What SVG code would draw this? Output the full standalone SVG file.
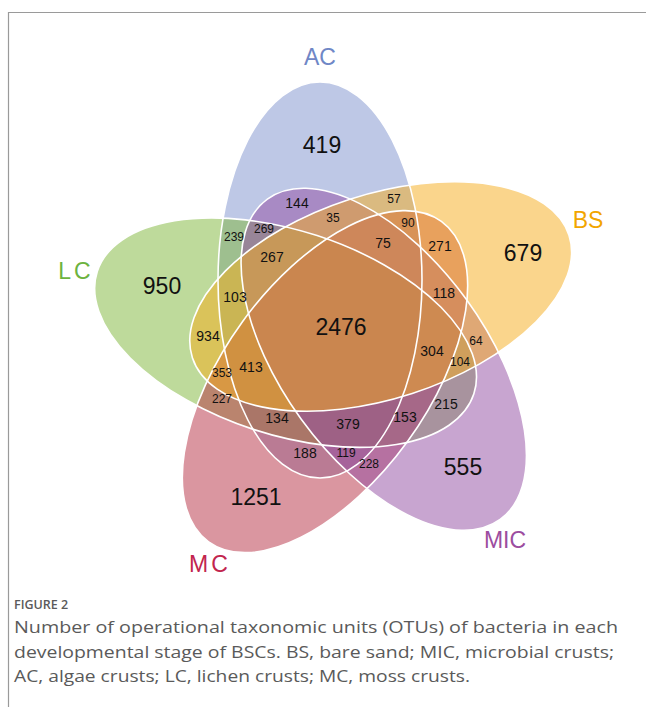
<svg xmlns="http://www.w3.org/2000/svg" width="646" height="707" viewBox="0 0 646 707">
  <style>
    .set { fill-opacity: 0.5; stroke: none; }
    .outline { fill: none; stroke: #ffffff; stroke-width: 1.6; }
    .num { font-family: "Liberation Sans", Arial, sans-serif; fill: #111111; text-anchor: middle; dominant-baseline: central; }
    .big { font-size: 23px; }
    .mid { font-size: 14px; }
    .small { font-size: 12px; }
    .cat { font-family: "Liberation Sans", Arial, sans-serif; font-size: 23px; text-anchor: middle; }
    .cap { font-family: "Open Sans", "Liberation Sans", sans-serif; fill: #5a5a5a; }
  </style>
  <defs>
    <!-- one petal of the five-set diagram; the other four are rotated copies -->
    <ellipse id="petal" cx="320" cy="280" rx="102" ry="198"/>
  </defs>

  <rect width="646" height="707" fill="#ffffff"/>
  <!-- figure frame -->
  <path d="M8.5,707 V12.5 H646" fill="none" stroke="#9a9a9a" stroke-width="1.2"/>

  <g id="set-AC">
    <use href="#petal" class="set" fill="#7d91cd"/>
    <text class="cat" x="320" y="65" fill="#6f87c6">AC</text>
  </g>
  <g id="set-LC">
    <use href="#petal" class="set" fill="#7db537" transform="rotate(-72 339 330)"/>
    <text class="cat" x="76" y="279" fill="#6db33f" letter-spacing="3">LC</text>
  </g>
  <g id="set-MC">
    <use href="#petal" class="set" fill="#b52d41" transform="rotate(-144 339 330)"/>
    <text class="cat" x="210" y="572" fill="#c2254e" letter-spacing="3">MC</text>
  </g>
  <g id="set-MIC">
    <use href="#petal" class="set" fill="#914ba1" transform="rotate(144 339 330)"/>
    <text class="cat" x="505" y="548" fill="#9c4da0">MIC</text>
  </g>
  <g id="set-BS">
    <use href="#petal" class="set" fill="#f5ab19" transform="rotate(72 339 330)"/>
    <text class="cat" x="588" y="228" fill="#f2a500">BS</text>
  </g>

  <!-- white borders on top of all fills -->
  <g id="borders">
    <use href="#petal" class="outline"/>
    <use href="#petal" class="outline" transform="rotate(-72 339 330)"/>
    <use href="#petal" class="outline" transform="rotate(-144 339 330)"/>
    <use href="#petal" class="outline" transform="rotate(144 339 330)"/>
    <use href="#petal" class="outline" transform="rotate(72 339 330)"/>
  </g>

  <g id="counts">
    <text class="num big" x="322" y="145">419</text>
    <text class="num big" x="523" y="253">679</text>
    <text class="num big" x="162" y="286">950</text>
    <text class="num big" x="463" y="467">555</text>
    <text class="num big" x="256" y="497">1251</text>
    <text class="num big" x="341" y="327">2476</text>
    <text class="num mid" x="297" y="203">144</text>
    <text class="num small" x="394" y="199">57</text>
    <text class="num small" x="234" y="237">239</text>
    <text class="num small" x="264" y="229">269</text>
    <text class="num small" x="333" y="218">35</text>
    <text class="num small" x="408" y="223">90</text>
    <text class="num mid" x="272" y="257">267</text>
    <text class="num mid" x="383" y="243">75</text>
    <text class="num mid" x="440" y="246">271</text>
    <text class="num mid" x="235" y="297">103</text>
    <text class="num mid" x="444" y="293">118</text>
    <text class="num mid" x="208" y="336">934</text>
    <text class="num small" x="476" y="341">64</text>
    <text class="num mid" x="432" y="351">304</text>
    <text class="num small" x="460" y="362">104</text>
    <text class="num mid" x="251" y="367">413</text>
    <text class="num small" x="222" y="373">353</text>
    <text class="num small" x="222" y="399">227</text>
    <text class="num mid" x="277" y="418">134</text>
    <text class="num mid" x="348" y="424">379</text>
    <text class="num mid" x="405" y="417">153</text>
    <text class="num mid" x="446" y="404">215</text>
    <text class="num mid" x="305" y="453">188</text>
    <text class="num small" x="346" y="453">119</text>
    <text class="num small" x="369" y="464">228</text>
  </g>

  <g id="caption">
    <text class="cap" x="14" y="609" font-size="12.5" font-weight="600" fill="#555555">FIGURE 2</text>
    <text class="cap" x="14" y="633" font-size="17" textLength="604" lengthAdjust="spacingAndGlyphs">Number of operational taxonomic units (OTUs) of bacteria in each</text>
    <text class="cap" x="14" y="658" font-size="17" textLength="600" lengthAdjust="spacingAndGlyphs">developmental stage of BSCs. BS, bare sand; MIC, microbial crusts;</text>
    <text class="cap" x="14" y="682" font-size="17" textLength="456" lengthAdjust="spacingAndGlyphs">AC, algae crusts; LC, lichen crusts; MC, moss crusts.</text>
  </g>
</svg>
